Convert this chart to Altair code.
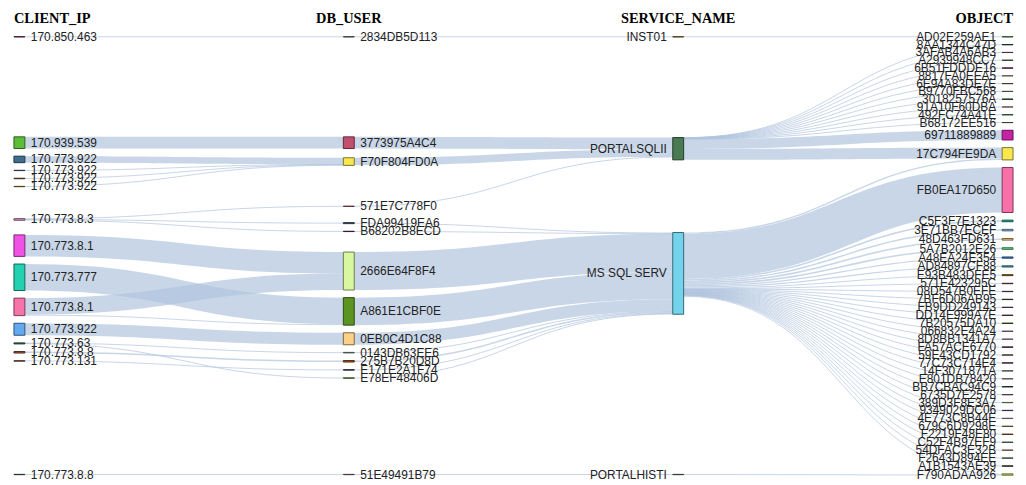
import altair as alt
import pandas as pd

# ---------------- data ----------------
headers = ["CLIENT_IP", "DB_USER", "SERVICE_NAME", "OBJECT"]

client_labels = ["170.850.463", "170.939.539", "170.773.922", "170.773.922", "170.773.922",
                 "170.773.922", "170.773.8.3", "170.773.8.1", "170.773.777", "170.773.8.1",
                 "170.773.922", "170.773.63", "170.773.8.8", "170.773.131", "170.773.8.8"]
client_colors = ["#8a3b4f", "#5cbd38", "#3f6d8e", "#6b5f9c", "#8b5a2b", "#a47d2c", "#d79ac9",
                 "#f052e6", "#22d1b2", "#f774ab", "#63a9ef", "#3b6d5d", "#a4563f", "#a35f4f", "#4b6b4b"]

dbuser_labels = ["2834DB5D113", "3773975A4C4", "F70F804FD0A", "571E7C778F0", "FDA99419EA6",
                 "B68202B8ECD", "2666E64F8F4", "A861E1CBF0E", "0EB0C4D1C88", "0143DB63EE6",
                 "275B7B20D8D", "E171E2A1F74", "E78EF48406D", "51E49491B79"]
dbuser_colors = ["#6a8a6a", "#c0506e", "#f8e850", "#c06868", "#5a5a82", "#63307f", "#d9f7a1",
                 "#5c9422", "#fbd087", "#88a8a0", "#a2591f", "#505082", "#82b462", "#a07082"]

service_labels = ["INST01", "PORTALSQLII", "MS SQL SERV", "PORTALHISTI"]
service_colors = ["#a38232", "#4a7a52", "#72d3ea", "#628262"]

object_labels = ["AD02E259AE1", "8AA1344C47D", "3AFAB4A6AB3", "A2939948CC7", "6B51FDDDE16",
                 "8817FA0EEA5", "6E94A83DE7E", "B9770FBC568", "3018257576A", "91A10F60DBA",
                 "492FC74A41E", "B68172EE516",
                 "69711889889", "17C794FE9DA", "FB0EA17D650",
                 "C5F3F7E1323", "3E71BB7ECEF", "48D463FD631", "5A7B2012E26", "A48EA24E354",
                 "AD84897CF88", "E93B483DFE5", "571E423295C", "08D547B0EFE", "7BF6D06AB95",
                 "FB9DD249143", "DD14E999A7E", "7B20575DA10", "066832E4A24", "8D8BB1341A7",
                 "FA57ACE6770", "59E43CD1792", "77C73C714E4", "14F3071871A", "E801DB78420",
                 "BB7CBAC94C9", "6735D7E2578", "389D3F8E3A7", "9349029DC06", "4E773C8B44E",
                 "679C6D9298E", "F2219F48E80", "C52F4B97EF9", "54DFAC3E32B", "F2643D894EE",
                 "A1B1543AE39", "F790ADAA926"]
object_colors = ["#5fb46a", "#2c5a3b", "#81649a", "#628262", "#84244a", "#b4b494", "#947444",
                 "#84a484", "#305c34", "#d4a4a4", "#548454", "#74845f",
                 "#c622a6", "#f8e84e", "#f870a8",
                 "#22b596", "#8cbce8", "#f8c47c", "#62e284", "#4284d6", "#54a4b6", "#a47422",
                 "#944454", "#645484", "#445c44", "#646484", "#844444", "#547434", "#c484c4",
                 "#c4acbc", "#643474", "#847464", "#844464", "#94a494", "#c4a4b4", "#344454",
                 "#947484", "#94c474", "#6c64a4", "#d4a4a4", "#a49454", "#a46c34", "#749474",
                 "#c4a494", "#749484", "#445c34", "#c4e454"]

# CLIENT_IP -> DB_USER
cd_src = [0, 1, 2, 3, 4, 5, 6, 6, 6, 7, 8, 9, 9, 10, 11, 11, 12, 13, 14]
cd_tgt = [0, 1, 2, 2, 2, 2, 3, 4, 5, 6, 7, 6, 7, 8, 9, 12, 10, 11, 13]
cd_val = [0.3, 11.7, 6.5, 0.3, 0.5, 0.3, 0.3, 1.0, 0.3, 21.5, 26.5, 16.5, 1.0, 12, 0.5, 0.5, 1.5, 0.5, 0.3]

# DB_USER -> SERVICE_NAME
ds_src = [0, 1, 2, 3, 4, 5, 6, 7, 8, 9, 10, 11, 12, 13]
ds_tgt = [0, 1, 1, 1, 2, 2, 2, 2, 2, 2, 2, 2, 2, 3]
ds_val = [0.3, 11.7, 7.6, 0.3, 1.0, 0.3, 38, 27.5, 12, 0.5, 1.5, 0.5, 0.5, 0.3]

# SERVICE_NAME -> OBJECT
so_src = [0, 1, 1, 1, 1, 1, 1, 1, 1, 1, 1, 1,
          1, 1, 2, 2,
          2, 2, 2, 2, 2, 2, 2, 2, 2, 2, 2, 2, 2, 2, 2, 2,
          2, 2, 2, 2, 2, 2, 2, 2, 2, 2, 2, 2, 2, 2, 2, 2,
          3]
so_tgt = [0, 1, 2, 3, 4, 5, 6, 7, 8, 9, 10, 11,
          12, 13, 13, 14,
          15, 16, 17, 18, 19, 20, 21, 22, 23, 24, 25, 26, 27, 28, 29, 30,
          31, 32, 33, 34, 35, 36, 37, 38, 39, 40, 41, 42, 43, 44, 45, 46,
          46]
so_val = [0.3, 0.15, 0.15, 0.15, 0.15, 0.15, 0.15, 0.15, 0.15, 0.15, 0.15, 0.15,
          9.7, 10.95, 1.35, 45,
          1.6, 1.5, 1.6, 1.6, 1.2, 1.2, 1.0, 0.4, 0.3, 0.3, 0.3, 0.3, 0.4, 0.25, 0.3, 0.3,
          0.25, 0.3, 0.3, 0.3, 0.3, 0.25, 0.25, 0.3, 0.3, 0.25, 0.4, 0.25, 0.3, 0.25, 0.4, 1.0,
          0.3]

# ---------------- sankey layout (classic d3 sankey relaxation, fixed node order) ----------------
W, H = 1018, 476
EXT_X0, EXT_X1, EXT_Y0, EXT_Y1 = 6, 1013, 27, 469
NODE_W, NODE_PAD, ITER = 11, 7.7, 32

columns_def = [(client_labels, client_colors), (dbuser_labels, dbuser_colors),
               (service_labels, service_colors), (object_labels, object_colors)]
nodes, columns = [], []
for c, (labs, cols) in enumerate(columns_def):
    lst = []
    for i, (lab, colr) in enumerate(zip(labs, cols)):
        n = {"name": lab, "color": colr, "layer": c, "sourceLinks": [], "targetLinks": []}
        nodes.append(n)
        lst.append(n)
    columns.append(lst)

links = []
for c, (s, t, v) in enumerate([(cd_src, cd_tgt, cd_val), (ds_src, ds_tgt, ds_val), (so_src, so_tgt, so_val)]):
    for a, b, val in zip(s, t, v):
        l = {"source": columns[c][a], "target": columns[c + 1][b], "value": val, "index": len(links)}
        links.append(l)
        l["source"]["sourceLinks"].append(l)
        l["target"]["targetLinks"].append(l)

for n in nodes:
    n["value"] = max(sum(l["value"] for l in n["sourceLinks"]),
                     sum(l["value"] for l in n["targetLinks"]))

ncols = len(columns)
size_w, size_h = EXT_X1 - EXT_X0, EXT_Y1 - EXT_Y0
kx = (size_w - NODE_W) / (ncols - 1)
for n in nodes:
    n["x"] = n["layer"] * kx

ky = min((size_h - (len(c) - 1) * NODE_PAD) / sum(n["value"] for n in c) for c in columns)
for c in columns:
    for i, n in enumerate(c):
        n["y"] = i
        n["dy"] = n["value"] * ky
for l in links:
    l["dy"] = l["value"] * ky


def center(n):
    return n["y"] + n["dy"] / 2


def resolve():
    for col in columns:
        y0 = 0
        for n in col:
            d = y0 - n["y"]
            if d > 0:
                n["y"] += d
            y0 = n["y"] + n["dy"] + NODE_PAD
        d = y0 - NODE_PAD - size_h
        if d > 0:
            last = col[-1]
            last["y"] -= d
            y0 = last["y"]
            for k in range(len(col) - 2, -1, -1):
                n = col[k]
                d = n["y"] + n["dy"] + NODE_PAD - y0
                if d > 0:
                    n["y"] -= d
                y0 = n["y"]


def relax_lr(alpha):
    for col in columns:
        for n in col:
            if n["targetLinks"]:
                y = sum(center(l["source"]) * l["value"] for l in n["targetLinks"]) / \
                    sum(l["value"] for l in n["targetLinks"])
                n["y"] += (y - center(n)) * alpha


def relax_rl(alpha):
    for col in reversed(columns):
        for n in col:
            if n["sourceLinks"]:
                y = sum(center(l["target"]) * l["value"] for l in n["sourceLinks"]) / \
                    sum(l["value"] for l in n["sourceLinks"])
                n["y"] += (y - center(n)) * alpha


resolve()
alpha = 1.0
for _ in range(ITER):
    alpha *= 0.99
    relax_rl(alpha)
    resolve()
    relax_lr(alpha)
    resolve()

for n in nodes:
    n["sourceLinks"].sort(key=lambda l: l["target"]["y"])
    n["targetLinks"].sort(key=lambda l: l["source"]["y"])
for n in nodes:
    sy = ty = 0
    for l in n["sourceLinks"]:
        l["sy"] = sy
        sy += l["dy"]
    for l in n["targetLinks"]:
        l["ty"] = ty
        ty += l["dy"]

# ---------------- tables ----------------
STEPS = 30
link_rows = []
for l in links:
    sx = EXT_X0 + l["source"]["x"] + NODE_W
    tx = EXT_X0 + l["target"]["x"]
    sy = EXT_Y0 + l["source"]["y"] + l["sy"] + l["dy"] / 2
    ty = EXT_Y0 + l["target"]["y"] + l["ty"] + l["dy"] / 2
    mx = (sx + tx) / 2
    for k in range(STEPS + 1):
        t = k / STEPS
        u = 1 - t
        x = u ** 3 * sx + 3 * u * u * t * mx + 3 * u * t * t * mx + t ** 3 * tx
        y = (u ** 3 + 3 * u * u * t) * sy + (3 * u * t * t + t ** 3) * ty
        link_rows.append({"link": l["index"], "t": k, "x": x, "y": y, "w": max(1.0, l["dy"])})
link_df = pd.DataFrame(link_rows)


def darker(hexc, k=2):
    f = 0.7 ** k
    r, g, b = (int(hexc[i:i + 2], 16) for i in (1, 3, 5))
    return "#%02x%02x%02x" % (int(r * f), int(g * f), int(b * f))


node_rows = []
for n in nodes:
    x0 = EXT_X0 + n["x"]
    y0 = EXT_Y0 + n["y"]
    node_rows.append({
        "name": n["name"], "x0": x0, "x1": x0 + NODE_W, "y0": y0, "y1": y0 + n["dy"],
        "fill": n["color"], "stroke": darker(n["color"]),
        "lx": x0 + NODE_W + 6 if n["layer"] < 2 else x0 - 6,
        "ly": y0 + n["dy"] / 2,
        "side": "L" if n["layer"] < 2 else "R"})
node_df = pd.DataFrame(node_rows)

col_x0 = [EXT_X0 + c * kx for c in range(ncols)]
head_df = pd.DataFrame({
    "name": headers,
    "hx": [col_x0[0], col_x0[1] + NODE_W / 2, col_x0[2] + NODE_W / 2, col_x0[3] + NODE_W],
    "al": ["left", "center", "center", "right"]})

# ---------------- chart ----------------
xs = alt.Scale(domain=[0, W], nice=False, zero=False)
ys = alt.Scale(domain=[0, H], nice=False, zero=False, reverse=True)

link_layer = alt.Chart(link_df).mark_line(color="#b0c4de", strokeOpacity=0.7, strokeCap="butt").encode(
    x=alt.X("x:Q", scale=xs, axis=None),
    y=alt.Y("y:Q", scale=ys, axis=None),
    detail="link:N",
    order="t:Q",
    size=alt.Size("w:Q", scale=None, legend=None),
)

node_layer = alt.Chart(node_df).mark_rect(strokeWidth=1).encode(
    x=alt.X("x0:Q", scale=xs, axis=None), x2="x1:Q",
    y=alt.Y("y0:Q", scale=ys, axis=None), y2="y1:Q",
    fill=alt.Fill("fill:N", scale=None),
    stroke=alt.Stroke("stroke:N", scale=None),
)

label_common = dict(font="Liberation Sans", fontSize=12, color="#222222", baseline="middle")
label_left = alt.Chart(node_df).transform_filter("datum.side == 'L'").mark_text(
    align="left", **label_common).encode(
    x=alt.X("lx:Q", scale=xs, axis=None), y=alt.Y("ly:Q", scale=ys, axis=None), text="name:N")
label_right = alt.Chart(node_df).transform_filter("datum.side == 'R'").mark_text(
    align="right", **label_common).encode(
    x=alt.X("lx:Q", scale=xs, axis=None), y=alt.Y("ly:Q", scale=ys, axis=None), text="name:N")

head_layers = []
for al in ["left", "center", "right"]:
    head_layers.append(
        alt.Chart(head_df).transform_filter(f"datum.al == '{al}'").mark_text(
            align=al, baseline="alphabetic", font="Liberation Serif", fontWeight="bold",
            fontSize=14.5, color="#000000").encode(
            x=alt.X("hx:Q", scale=xs, axis=None), y=alt.value(13), text="name:N"))

chart = alt.layer(link_layer, node_layer, label_left, label_right, *head_layers).properties(
    width=W, height=H, autosize=alt.AutoSizeParams(type="none"), padding=0
).configure_view(stroke=None)

chart.save("out.html", embed_options={"renderer": "svg", "actions": False})
